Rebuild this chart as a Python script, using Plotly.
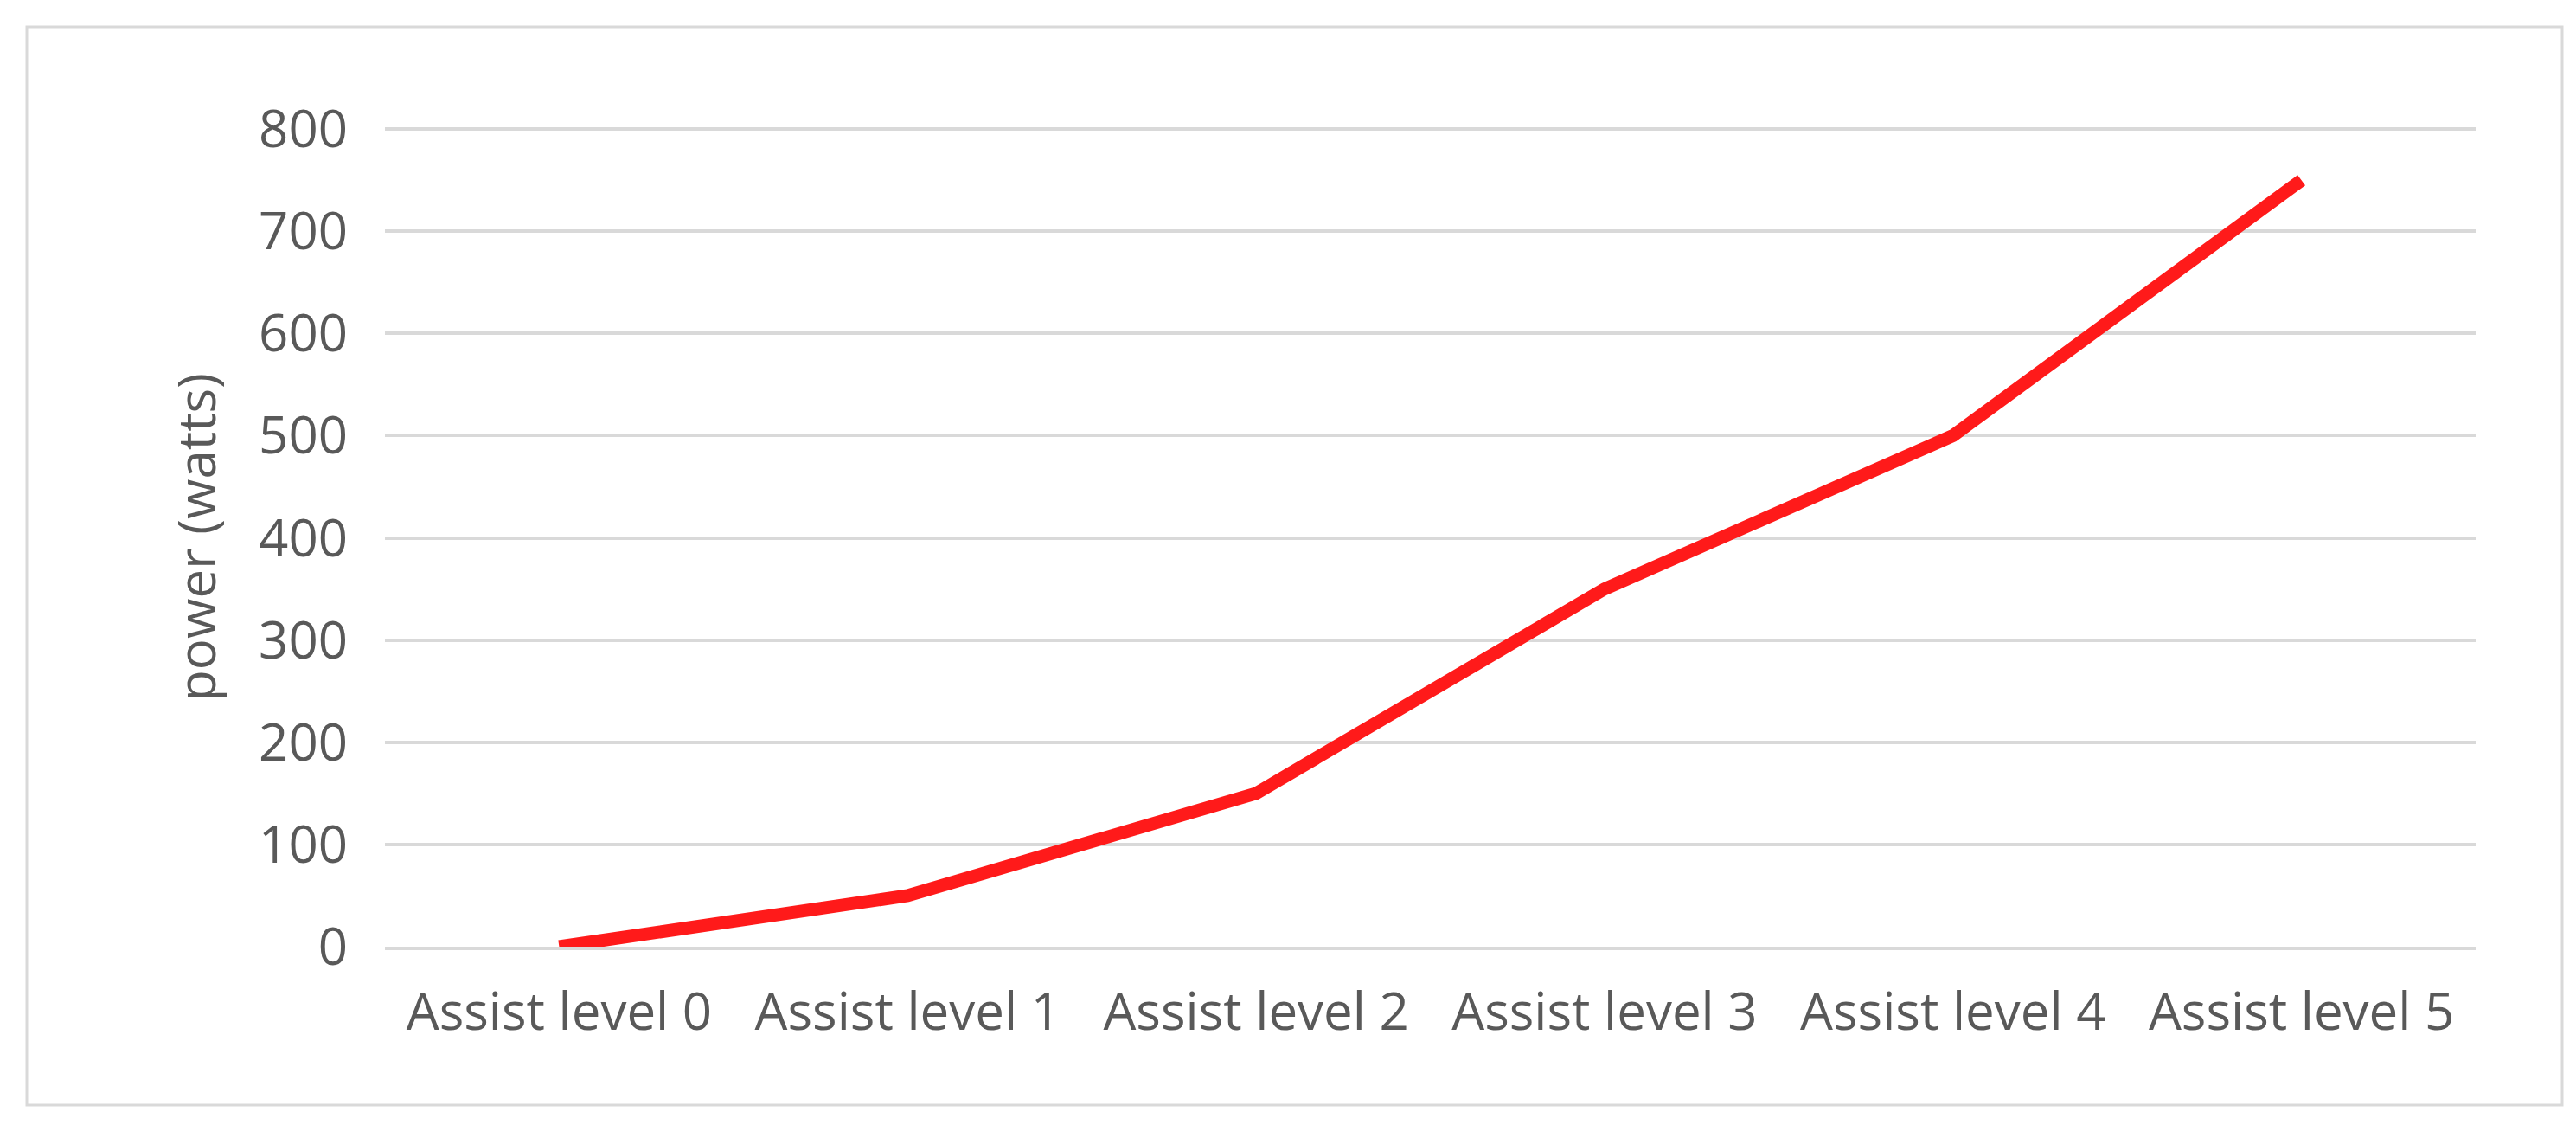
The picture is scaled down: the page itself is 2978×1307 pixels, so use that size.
import plotly.graph_objects as go

categories = ["Assist level 0", "Assist level 1", "Assist level 2", "Assist level 3", "Assist level 4", "Assist level 5"]
power = [0, 50, 150, 350, 500, 750]
y_ticks = [0, 100, 200, 300, 400, 500, 600, 700, 800]

fig = go.Figure(go.Scatter(x=categories, y=power, mode="lines", cliponaxis=False,
                           line=dict(color="#FF1A1A", width=15)))
font = dict(family="Open Sans", size=60, color="#595959")
fig.update_layout(
    width=2978, height=1307,
    margin=dict(l=437, r=124, t=140, b=221),
    paper_bgcolor="white", plot_bgcolor="white",
    showlegend=False,
    font=font,
    xaxis=dict(type="category", range=[-0.5, 5.5], showgrid=False, showline=True,
               linecolor="#D9D9D9", linewidth=4, ticks="outside", ticklen=20,
               tickcolor="white", tickfont=font),
    yaxis=dict(range=[0, 801], tickvals=y_ticks, showgrid=True, gridcolor="#D9D9D9",
               gridwidth=4, zeroline=False, showline=False, tickfont=font,
               ticklen=30, ticks="outside", tickcolor="white",
               title=dict(text="power (watts)", font=font, standoff=30)),
    shapes=[dict(type="rect", xref="paper", yref="paper",
                 x0=-414/2417, x1=1+100/2417, y0=-(1269-1086)/946, y1=1+(140-23)/946,
                 line=dict(color="#D9D9D9", width=3), fillcolor="rgba(0,0,0,0)", layer="below")],
)
fig.write_html("out.html")
